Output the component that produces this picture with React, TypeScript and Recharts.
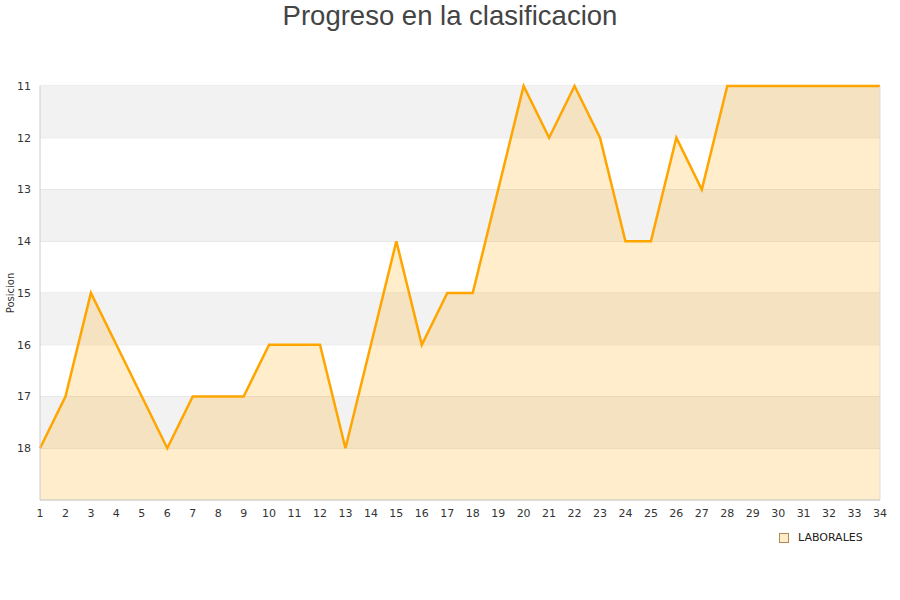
import React from 'react';
import { AreaChart, Area, XAxis, YAxis, CartesianGrid, ReferenceArea, ReferenceLine } from 'recharts';

const jornadas = [1,2,3,4,5,6,7,8,9,10,11,12,13,14,15,16,17,18,19,20,21,22,23,24,25,26,27,28,29,30,31,32,33,34];
const posiciones = [18,17,15,16,17,18,17,17,17,16,16,16,18,16,14,16,15,15,13,11,12,11,12,14,14,12,13,11,11,11,11,11,11,11];
const yTicks = [11,12,13,14,15,16,17,18];
const bands = [[11,12],[13,14],[15,16],[17,18]];
const seriesName = 'LABORALES';
const title = 'Progreso en la clasificacion';
const yLabel = 'Posicion';

const data = jornadas.map((j, i) => ({ j, pos: posiciones[i] }));

export default function App() {
  return (
    <div style={{ position: 'absolute', left: 0, top: 0, width: 900, height: 600, background: '#fff', fontFamily: '"DejaVu Sans", sans-serif' }}>
      <div style={{ position: 'absolute', left: 0, top: 2, width: 900, textAlign: 'center', fontFamily: '"Liberation Sans", Arial, sans-serif', fontSize: 27.5, lineHeight: '28px', color: '#444' }}>{title}</div>
      <AreaChart width={900} height={600} data={data} margin={{ top: 86, right: 20, left: 0, bottom: 70 }}>
        {bands.map(([a, b]) => (
          <ReferenceArea key={a} y1={a} y2={b} fill="#f2f2f2" fillOpacity={1} stroke="none" ifOverflow="visible" />
        ))}
        <CartesianGrid vertical={false} stroke="#dddddd" strokeDasharray="" />
        <ReferenceLine x={34} stroke="#dddddd" />
        <XAxis dataKey="j" type="number" domain={[1, 34]} ticks={jornadas} interval={0} height={30}
          axisLine={{ stroke: '#cccccc' }} tickLine={false}
          tick={{ fontSize: 11, fill: '#333', fontFamily: '"DejaVu Sans", sans-serif' }} tickMargin={3} />
        <YAxis type="number" reversed domain={[11, 19]} ticks={yTicks} interval={0} width={40}
          axisLine={{ stroke: '#cccccc' }} tickLine={false}
          tick={{ fontSize: 11, fill: '#333', fontFamily: '"DejaVu Sans", sans-serif' }} tickMargin={3}
          label={{ value: yLabel, angle: -90, position: 'insideLeft', offset: 10, style: { fontSize: 10, fill: '#333', textAnchor: 'middle', fontFamily: '"DejaVu Sans", sans-serif' } }} />
        <Area type="linear" dataKey="pos" name={seriesName} baseValue={19} stroke="#ffa500" strokeWidth={2.5}
          fill="#ffa500" fillOpacity={0.2} dot={false} activeDot={false} isAnimationActive={false} />
      </AreaChart>
      <div style={{ position: 'absolute', left: 779, top: 531, display: 'flex', alignItems: 'center', fontSize: 11, color: '#222' }}>
        <span style={{ display: 'inline-block', width: 8, height: 8, background: '#ffecc8', border: '1px solid #b08a50', marginRight: 9 }} />
        <span>{seriesName}</span>
      </div>
    </div>
  );
}
